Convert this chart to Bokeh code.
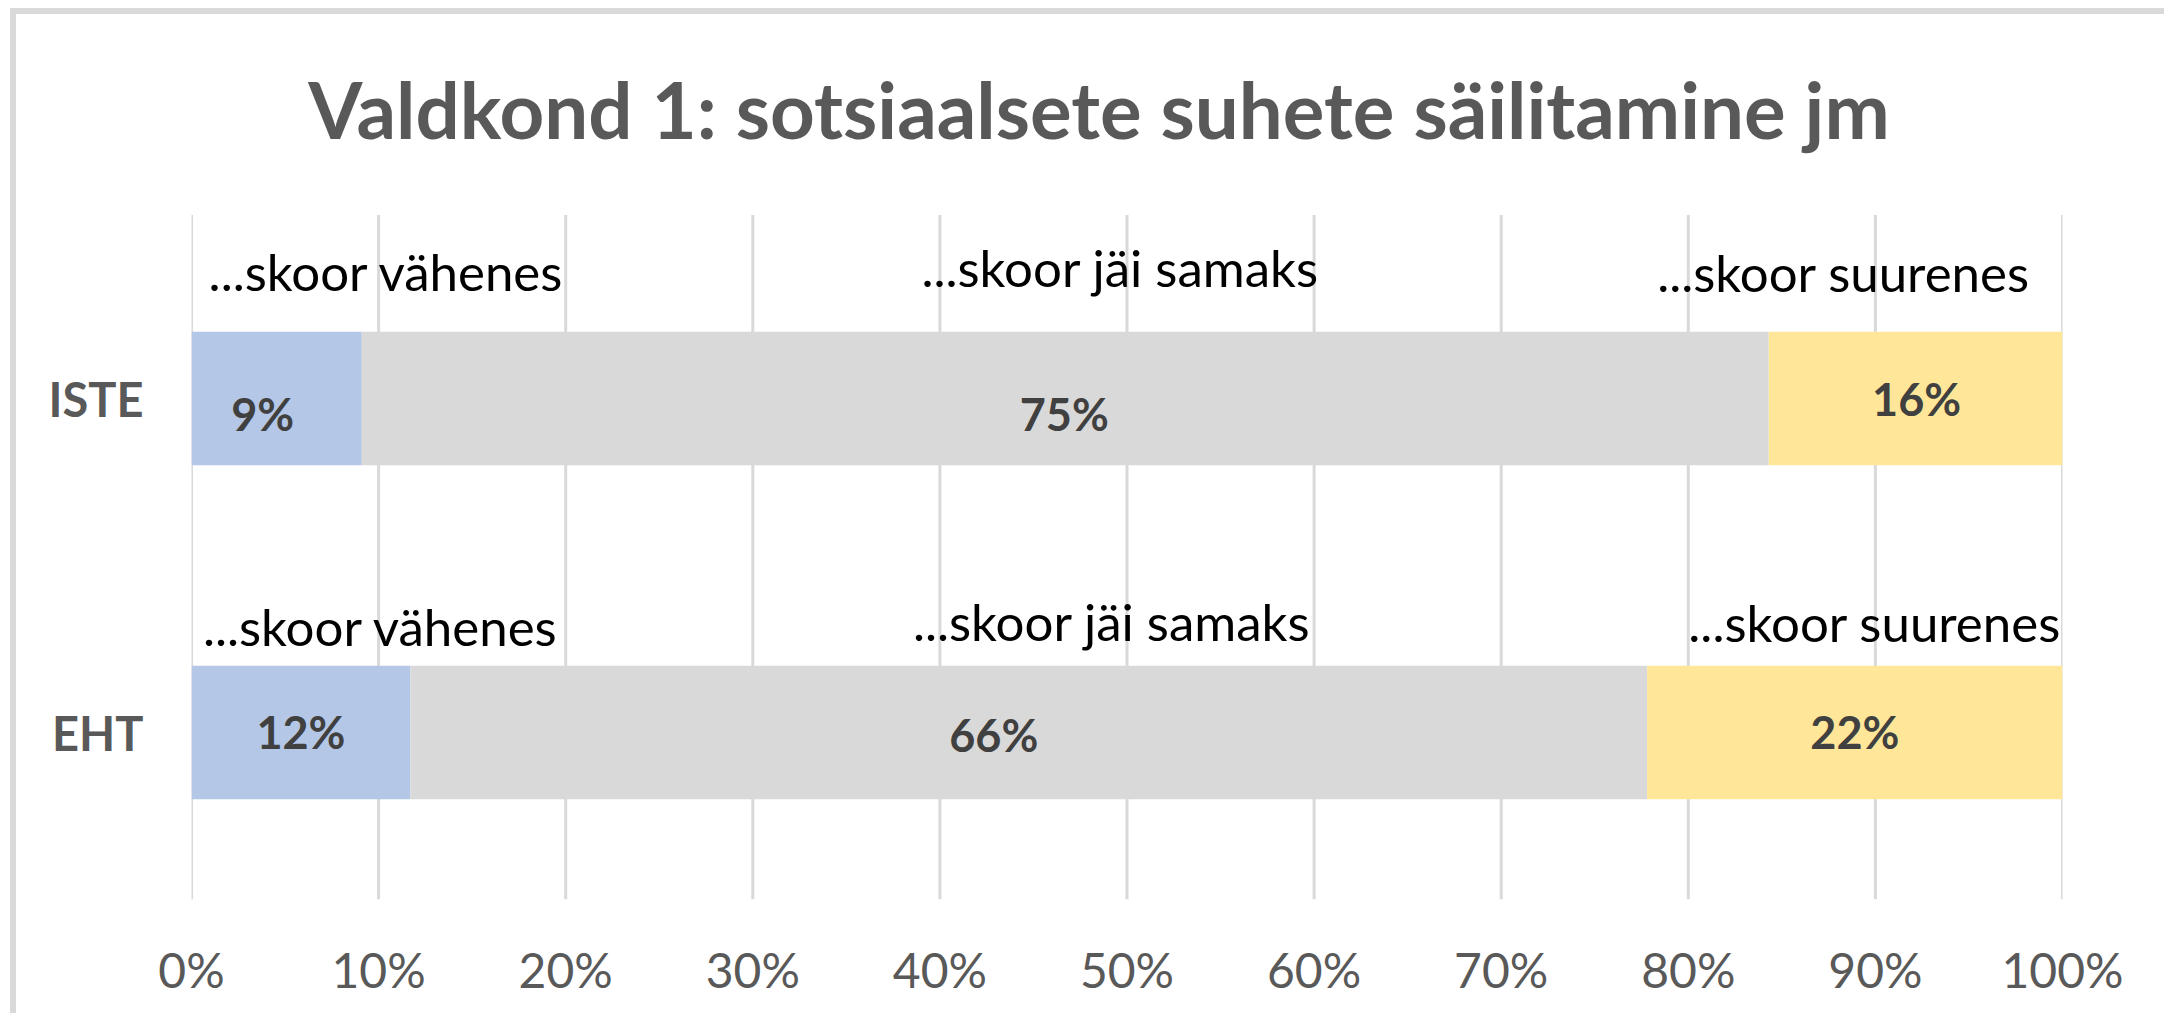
from bokeh.plotting import figure
from bokeh.models import ColumnDataSource, Range1d, FixedTicker
from bokeh.core.properties import value
from bokeh.embed import file_html
from bokeh.resources import INLINE

# ---- data ----
title_text = "Valdkond 1: sotsiaalsete suhete säilitamine jm"
categories = ["ISTE", "EHT"]
series_names = ["...skoor vähenes", "...skoor jäi samaks", "...skoor suurenes"]
vahenes = [9.1, 11.7]
sama = [75.2, 66.1]
suurenes = [15.7, 22.2]
pct_text = [["9%", "75%", "16%"], ["12%", "66%", "22%"]]
tick_values = [0, 10, 20, 30, 40, 50, 60, 70, 80, 90, 100]
tick_labels = ["0%", "10%", "20%", "30%", "40%", "50%", "60%", "70%", "80%", "90%", "100%"]
colors = ["#B4C7E7", "#D9D9D9", "#FFE699"]

# label nudges (pixels), per category x per series
pct_dx = [[-14, -1, 1], [0, -35, 0]]
pct_dy = [[15, 15, 0], [-1, 2, -1]]
name_dx = [[110, 55, -72], [80, 83, 20]]
name_dy = [[-127, -131, -126], [-106, -111, -110]]

FONT = "Lato"
cat_pos = [len(categories) - 1 - i for i in range(len(categories))]  # ISTE on top
Y_START, Y_END = -0.5, 2.15
GRID_TOP = max(cat_pos) + 0.55

p = figure(
    y_range=Range1d(Y_START, Y_END),
    x_range=Range1d(0, 100),
    frame_width=1871, frame_height=885,
    min_border_left=175, min_border_top=0, min_border_right=108, min_border_bottom=120,
    output_backend="svg", toolbar_location=None,
    background_fill_color="white", border_fill_color="white",
    styles={"box-shadow": "-6px -6px 0px 0px #D9D9D9",
            "margin-left": "16px", "margin-top": "14px"},
)
p.outline_line_color = None

# vertical gridlines at the value ticks
p.segment(x0=tick_values, x1=tick_values, y0=[Y_START] * len(tick_values),
          y1=[GRID_TOP] * len(tick_values), line_color="#D9D9D9", line_width=3,
          level="underlay")

# stacked bars
series_vals = [vahenes, sama, suurenes]
lefts = [[0.0] * len(categories)]
for s in series_vals[:-1]:
    lefts.append([l + v for l, v in zip(lefts[-1], s)])
rights = [[l + v for l, v in zip(L, s)] for L, s in zip(lefts, series_vals)]

for i, s in enumerate(series_vals):
    src = ColumnDataSource(dict(y=cat_pos, left=lefts[i], right=rights[i]))
    p.hbar(y="y", left="left", right="right", height=0.4, source=src,
           fill_color=colors[i], line_color=None)

# title
p.text(x=[50], y=[cat_pos[0]], text=[title_text], x_offset=-28, y_offset=-290,
       text_font=value(FONT), text_font_style="bold", text_font_size="78px",
       text_color="#595959", text_align="center", text_baseline="middle")

# labels
lx, ly, lt, ldx, ldy = [], [], [], [], []
nx, ny, nt, ndx, ndy = [], [], [], [], []
for ci, cy in enumerate(cat_pos):
    for si in range(3):
        mid = (lefts[si][ci] + rights[si][ci]) / 2
        lx.append(mid); ly.append(cy); lt.append(pct_text[ci][si])
        ldx.append(pct_dx[ci][si]); ldy.append(pct_dy[ci][si])
        nx.append(mid); ny.append(cy); nt.append(series_names[si])
        ndx.append(name_dx[ci][si]); ndy.append(name_dy[ci][si])

p.text(x="x", y="y", text="t", x_offset="dx", y_offset="dy",
       source=ColumnDataSource(dict(x=lx, y=ly, t=lt, dx=ldx, dy=ldy)),
       text_font=value(FONT), text_font_style="bold", text_font_size="45px",
       text_color="#404040", text_align="center", text_baseline="middle")
p.text(x="x", y="y", text="t", x_offset="dx", y_offset="dy",
       source=ColumnDataSource(dict(x=nx, y=ny, t=nt, dx=ndx, dy=ndy)),
       text_font=value(FONT), text_font_size="51px",
       text_color="#000000", text_align="center", text_baseline="middle")

# axes
p.xaxis.ticker = FixedTicker(ticks=tick_values)
p.xaxis.major_label_overrides = {t: l for t, l in zip(tick_values, tick_labels)}
p.xaxis.axis_line_color = None
p.xaxis.major_tick_line_color = None
p.xaxis.minor_tick_line_color = None
p.xaxis.major_label_standoff = 35
p.xaxis.major_label_text_font = FONT
p.xaxis.major_label_text_font_size = "48px"
p.xaxis.major_label_text_color = "#595959"

p.yaxis.ticker = FixedTicker(ticks=cat_pos)
p.yaxis.major_label_overrides = {y: c for y, c in zip(cat_pos, categories)}
p.yaxis.axis_line_color = None
p.yaxis.major_tick_line_color = None
p.yaxis.minor_tick_line_color = None
p.yaxis.major_label_standoff = 42
p.yaxis.major_label_text_font = FONT
p.yaxis.major_label_text_font_style = "bold"
p.yaxis.major_label_text_font_size = "47px"
p.yaxis.major_label_text_color = "#595959"

p.xgrid.visible = False
p.ygrid.visible = False

open("out.html", "w").write(file_html(p, INLINE))
